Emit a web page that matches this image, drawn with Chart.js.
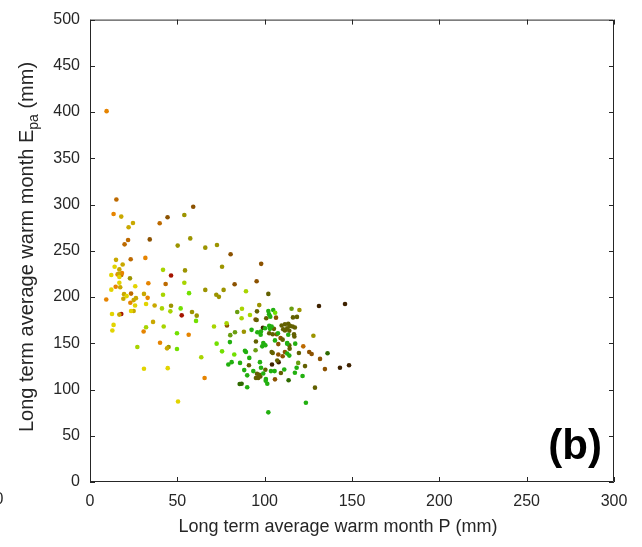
<!DOCTYPE html>
<html>
<head>
<meta charset="utf-8">
<script src="https://cdn.jsdelivr.net/npm/chart.js@4/dist/chart.umd.min.js"></script>
<style>
  html, body { margin: 0; padding: 0; background: #fff; }
  #wrap { width: 642px; height: 547px; position: relative; }
</style>
</head>
<body>
<div id="wrap"><canvas id="scatter"></canvas></div>
<script>
// warm month P (mm) vs E_pa (mm), one array of [P, Epa] pairs per colour class
const xTicks = [0, 50, 100, 150, 200, 250, 300];
const yTicks = [0, 50, 100, 150, 200, 250, 300, 350, 400, 450, 500];

const classOrange = [
  [9.5, 401], [13.5, 289.8], [31.7, 242.3], [18.3, 225.9], [15.8, 224.5], [14.7, 211.2],
  [9.3, 197.3], [23.1, 193.8], [33.0, 199.1], [33.4, 214.9], [30.7, 162.7], [56.5, 159.2],
  [40.1, 150.6], [65.6, 112.4]
];
const classGold = [
  [17.9, 287], [24.6, 280], [22.1, 275.5], [14.9, 240.2], [18.7, 235.2], [16.8, 229.9],
  [16.4, 225.2], [17.3, 210.6], [19.5, 203.1], [26.3, 198.8], [25.0, 196.7], [19.1, 198.1],
  [37.0, 190.9], [25.0, 184.9], [16.8, 181], [36.1, 173.1], [30.9, 203.4], [44.1, 144.5]
];
const classOrangeBrown = [
  [15.1, 305.4], [21.8, 261.6], [19.8, 257], [23.3, 240.9], [23.5, 203.7], [43.3, 214.1],
  [39.9, 279.8], [17.9, 223.8], [122.1, 146.7]
];
const classBrown = [
  [44.4, 286.2], [34.2, 262.3], [59.1, 297.6], [82.8, 213.8], [80.5, 246.3], [98, 235.9],
  [95.4, 217], [78.4, 169.2], [94.8, 175.6], [106.5, 177.7], [106.9, 159.8], [109.1, 155.6],
  [107.8, 149.1], [111.6, 140.6], [107.8, 137.8], [110.3, 136], [125.5, 140.6], [126.9, 138.4],
  [131.7, 133.1], [134.5, 122.1], [105.9, 111]
];
const classDarkBrown = [
  [131.1, 190.3], [146, 192.4], [99, 166.7], [104.2, 127.1], [108, 129.6], [143.1, 123.5],
  [148.3, 126.3]
];
const classRed = [
  [46.4, 223.3], [52.5, 180.2], [17.9, 181.7]
];
const classYellow = [
  [14.1, 232.7], [12.2, 223.8], [16.8, 221.6], [16.8, 215.5], [12.2, 208], [25.9, 211.7],
  [21.0, 201], [25.8, 190.9], [32.1, 192.4], [12.6, 181.7], [23.5, 184.9], [13.5, 169.9],
  [12.8, 163.8], [30.9, 122.4], [44.5, 123.1], [50.4, 87]
];
const classOlive = [
  [54, 288.7], [57.4, 263.4], [50.2, 255.6], [66, 253.4], [72.7, 256.2], [54.4, 228.8],
  [75.6, 232.7], [22.9, 220.2], [66, 207.7], [76.5, 207.7], [72.3, 202.4], [73.8, 200.2],
  [46.4, 190.6], [58.4, 183.8], [61.1, 179.9], [45, 145.9], [96.9, 191.3], [119.9, 186],
  [88.1, 162.4], [127.9, 158.1]
];
const classYellowGreen = [
  [41.8, 229.4], [54, 215.5], [41.8, 202.4], [41.2, 187.7], [46, 184.5], [32.1, 167.4],
  [42.2, 168.1], [27.1, 145.9], [63.7, 134.9], [89.3, 206.3], [87, 187.4], [91.6, 180.6],
  [86.8, 177], [78.2, 171.6], [71, 168.1]
];
const classLightGreen = [
  [56.7, 204.2], [51.9, 187.7], [60.7, 174.2], [49.8, 160.9], [49.8, 143.8], [72.5, 149.6],
  [82.6, 137.8], [106, 183], [75.6, 141.3]
];
const classOliveGreen = [
  [84.3, 183.8], [83, 162], [80.3, 158.8], [94.8, 142.4], [115.4, 187.4], [119.2, 128.8]
];
const classGreen = [
  [102.1, 184.9], [102.5, 181.3], [103.2, 178.8], [104.9, 186], [92.5, 164.5], [95.8, 162],
  [97.9, 162.7], [97.7, 159.2], [100.2, 166.3], [102.6, 168.8], [103, 165.6], [104, 168.1],
  [107.6, 160.9], [113.5, 159.2], [105.9, 153.1], [112.9, 150.2], [99.2, 150.2], [99.6, 148.5],
  [98.6, 146.7], [100.4, 147.8], [80.1, 151.3], [88.7, 142], [89.3, 140.6], [91.2, 134.2],
  [112.9, 138.9], [114.1, 136.7], [112.9, 149.6], [117.5, 149.6], [79.2, 127.1],
  [81.1, 129.6], [85.9, 128.8], [88.3, 121], [90, 115.3], [93.5, 119.9], [97.9, 123.5],
  [99.2, 117.4], [100.7, 111.3], [101.5, 106.3], [100.6, 109.5], [103.6, 119.9], [105.7, 119.9],
  [111.2, 121.7], [117.3, 118.1], [118.3, 123.5], [121.7, 114.6], [90, 102.4], [123.6, 85.7],
  [102.1, 75.3], [97.3, 129.6]
];
const classDarkOlive = [
  [102.1, 203.4], [116.2, 178], [118.5, 178.5], [109.7, 169.2], [111.6, 170.6], [113.5, 171],
  [114.5, 168.8], [112.9, 166.3], [116, 168.1], [117.3, 167], [111.6, 163.8], [114.1, 163.5],
  [110.6, 165.2], [105.3, 165.6], [116.8, 159.8], [117, 157.4], [110.3, 153.9], [114.1, 147.8],
  [114.3, 144.2], [119.6, 139.5], [104, 140.6], [104.6, 139.5], [95, 152], [100.9, 177],
  [95.4, 175.2], [95.6, 184.5], [91, 126.3], [96.9, 116], [95.6, 117], [95, 112.4],
  [96.3, 112.4], [97.5, 114.2], [100.4, 121.3], [109.3, 117.8], [123.1, 125.3], [128.8, 102],
  [107.2, 131.4], [102.6, 160.9], [104.6, 159.8]
];
const classDarkGreen = [
  [136, 139.2], [113.7, 110], [85.7, 106], [86.8, 106.3]
];

const groups = [
  { pts: classYellow, color: '#e2d400' },
  { pts: classGold, color: '#c9a800' },
  { pts: classOrange, color: '#e68400' },
  { pts: classOrangeBrown, color: '#bd6a00' },
  { pts: classRed, color: '#a51400' },
  { pts: classOlive, color: '#9c9400' },
  { pts: classYellowGreen, color: '#a8d400' },
  { pts: classLightGreen, color: '#72e000' },
  { pts: classOliveGreen, color: '#6a9e10' },
  { pts: classGreen, color: '#22b010' },
  { pts: classDarkOlive, color: '#626000' },
  { pts: classDarkGreen, color: '#2e6a00' },
  { pts: classBrown, color: '#8c5200' },
  { pts: classDarkBrown, color: '#3e2200' }
];

const FONT = '"Liberation Sans", Arial, Helvetica, sans-serif';
const INK = '#262626';

// box with inward tick marks on all four sides, plus the axis titles and panel tag
const frame = {
  id: 'frame',
  afterDraw(chart) {
    const { ctx, chartArea: a, scales: { x, y } } = chart;
    const t = 5;
    ctx.save();
    ctx.strokeStyle = INK;
    ctx.lineWidth = 1;
    ctx.beginPath();
    ctx.rect(a.left + 0.5, a.top + 0.5, a.right - a.left - 1, a.bottom - a.top - 1);
    xTicks.forEach(v => {
      const px = Math.round(x.getPixelForValue(v)) + 0.5;
      ctx.moveTo(px, a.bottom); ctx.lineTo(px, a.bottom - t);
      ctx.moveTo(px, a.top); ctx.lineTo(px, a.top + t);
    });
    yTicks.forEach(v => {
      const py = Math.round(y.getPixelForValue(v)) + 0.5;
      ctx.moveTo(a.left, py); ctx.lineTo(a.left + t, py);
      ctx.moveTo(a.right, py); ctx.lineTo(a.right - t, py);
    });
    ctx.stroke();

    ctx.fillStyle = INK;
    ctx.font = '18px ' + FONT;
    ctx.textAlign = 'center';
    ctx.textBaseline = 'middle';
    ctx.fillText('Long term average warm month P (mm)', 338, 527);

    // neighbouring panel's last tick label, cut by the page edge
    ctx.font = '16px ' + FONT;
    ctx.fillText('0', -1, 500);

    // rotated y title with subscript
    const big = '20px ' + FONT, small = '14px ' + FONT;
    const main = 'Long term average warm month E';
    const sub = 'pa';
    const tail = ' (mm)';
    ctx.font = big;
    const wMain = ctx.measureText(main).width;
    const wTail = ctx.measureText(tail).width;
    ctx.font = small;
    const wSub = ctx.measureText(sub).width;
    const total = wMain + wSub + wTail;
    ctx.translate(26, 247);
    ctx.rotate(-Math.PI / 2);
    ctx.textAlign = 'left';
    ctx.textBaseline = 'alphabetic';
    let cx = -total / 2;
    ctx.font = big;
    ctx.fillText(main, cx, 7);
    cx += wMain;
    ctx.font = small;
    ctx.fillText(sub, cx, 12);
    cx += wSub;
    ctx.font = big;
    ctx.fillText(tail, cx, 7);
    ctx.restore();

    ctx.save();
    ctx.fillStyle = '#000';
    ctx.font = 'bold 42px ' + FONT;
    ctx.textAlign = 'right';
    ctx.textBaseline = 'middle';
    ctx.fillText('(b)', 602, 447);
    ctx.restore();
  }
};

new Chart(document.getElementById('scatter'), {
  type: 'scatter',
  data: {
    datasets: groups.map(g => ({
      data: g.pts.map(p => ({ x: p[0], y: p[1] })),
      backgroundColor: g.color,
      pointRadius: 2.3,
      pointBorderWidth: 0,
      pointHoverRadius: 2.3
    }))
  },
  options: {
    responsive: true,
    maintainAspectRatio: false,
    animation: false,
    events: [],
    layout: { padding: { left: 0, right: 28, top: 15, bottom: 0 } },
    plugins: { legend: { display: false }, tooltip: { enabled: false } },
    scales: {
      x: {
        type: 'linear', min: 0, max: 300,
        afterBuildTicks: s => { s.ticks = xTicks.map(v => ({ value: v })); },
        afterFit: s => { s.height = 65; },
        grid: { display: false, drawTicks: false },
        border: { display: false },
        ticks: { color: INK, font: { family: FONT, size: 16 }, padding: 10, maxRotation: 0 }
      },
      y: {
        type: 'linear', min: 0, max: 500,
        afterBuildTicks: s => { s.ticks = yTicks.map(v => ({ value: v })); },
        afterFit: s => { s.width = 90; },
        grid: { display: false, drawTicks: false },
        border: { display: false },
        ticks: { color: INK, font: { family: FONT, size: 16 }, padding: 10 }
      }
    }
  },
  plugins: [frame]
});
</script>
</body>
</html>
